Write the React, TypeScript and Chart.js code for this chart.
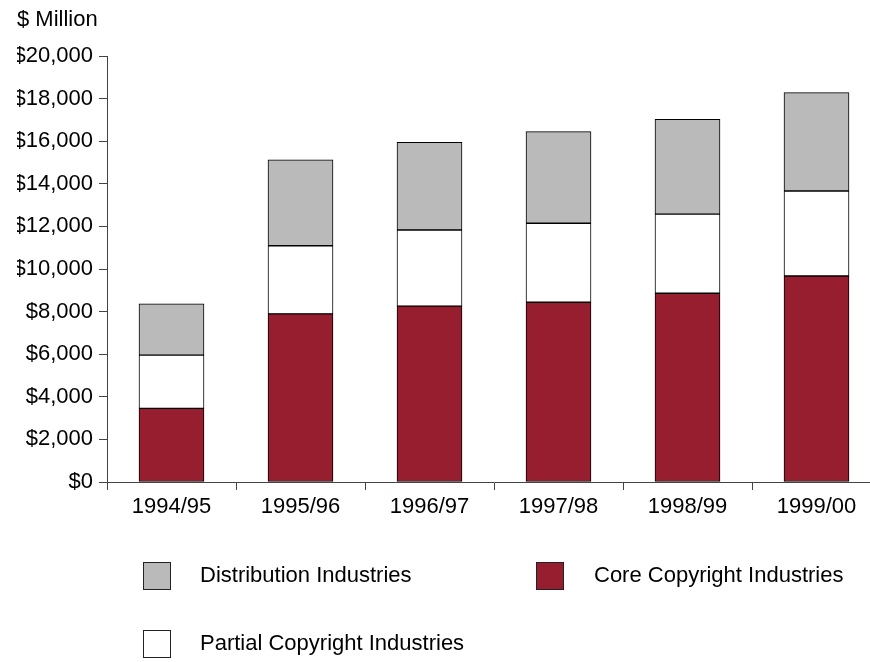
import React, { useEffect, useRef } from "react";
import { Chart, registerables } from "chart.js";

Chart.register(...registerables);

const categories = ["1994/95", "1995/96", "1996/97", "1997/98", "1998/99", "1999/00"];
const coreValues = [3460, 7890, 8260, 8440, 8860, 9670];
const partialValues = [2500, 3200, 3570, 3710, 3720, 3990];
const distributionValues = [2400, 4030, 4120, 4300, 4450, 4620];
const seriesNames = ["Core Copyright Industries", "Partial Copyright Industries", "Distribution Industries"];
const seriesColors = ["#961E2F", "#FFFFFF", "#BABABA"];
const unitLabel = "$ Million";

const FONT = "'Liberation Sans', Arial, Helvetica, sans-serif";

const legendPlugin = {
  id: "customLegend",
  afterDraw(chart: any) {
    const ctx = chart.ctx;
    const ds = chart.data.datasets;
    // order: Distribution (top-left), Core (top-right), Partial (bottom-left)
    const items = [
      { i: 2, bx: 143, by: 562, tx: 200 },
      { i: 0, bx: 536, by: 562, tx: 594 },
      { i: 1, bx: 143, by: 630, tx: 200 },
    ];
    ctx.save();
    ctx.font = `22px ${FONT}`;
    ctx.textBaseline = "middle";
    ctx.textAlign = "left";
    for (const it of items) {
      const d = ds[it.i];
      ctx.fillStyle = d.backgroundColor;
      ctx.fillRect(it.bx, it.by, 28, 28);
      ctx.strokeStyle = "#222";
      ctx.lineWidth = 1;
      ctx.strokeRect(it.bx + 0.5, it.by + 0.5, 27, 27);
      ctx.fillStyle = "#000";
      ctx.fillText(d.label, it.tx, it.by + 14);
    }
    ctx.restore();
  },
};

export default function App() {
  const ref = useRef<HTMLCanvasElement>(null);
  useEffect(() => {
    if (!ref.current) return;
    Chart.defaults.font.family = FONT;
    Chart.defaults.color = "#000";
    const values = [coreValues, partialValues, distributionValues];
    const chart = new Chart(ref.current, {
      type: "bar",
      data: {
        labels: categories,
        datasets: values.map((v, i) => ({
          label: seriesNames[i],
          data: v,
          backgroundColor: seriesColors[i],
          borderColor: "#000",
          borderWidth: 1,
          borderSkipped: false,
          barThickness: 65,
        })),
      },
      options: {
        responsive: false,
        animation: false,
        devicePixelRatio: 1,
        layout: { padding: { left: 17, right: 0, top: 0, bottom: 140 } },
        plugins: {
          legend: { display: false },
          tooltip: { enabled: false },
          title: {
            display: true,
            text: unitLabel,
            align: "start",
            color: "#000",
            font: { size: 22, weight: "normal", family: FONT },
            padding: { top: 7, bottom: 22.6 },
          },
        },
        scales: {
          x: {
            stacked: true,
            grid: {
              offset: true,
              drawOnChartArea: false,
              drawTicks: true,
              tickLength: 8,
              color: "#444",
            },
            border: { color: "#444", width: 1 },
            ticks: { font: { size: 22 }, color: "#000", padding: 4, maxRotation: 0 },
            afterFit: (s: any) => {
              s.height = 40;
            },
          },
          y: {
            stacked: true,
            min: 0,
            max: 20000,
            grid: { drawOnChartArea: false, drawTicks: true, tickLength: 8, color: "#444" },
            border: { color: "#444", width: 1 },
            ticks: {
              stepSize: 2000,
              font: { size: 22 },
              color: "#000",
              padding: 6,
              callback: (v: any) => "$" + Number(v).toLocaleString("en-US"),
            },
            afterFit: (s: any) => {
              s.width = 90;
            },
          },
        },
      },
      plugins: [legendPlugin],
    });
    return () => chart.destroy();
  }, []);
  return (
    <div style={{ position: "fixed", left: 0, top: 0, width: 870, height: 662, overflow: "hidden", background: "#fff" }}>
      <canvas ref={ref} width={881} height={662} style={{ width: 881, height: 662, display: "block" }} />
    </div>
  );
}
